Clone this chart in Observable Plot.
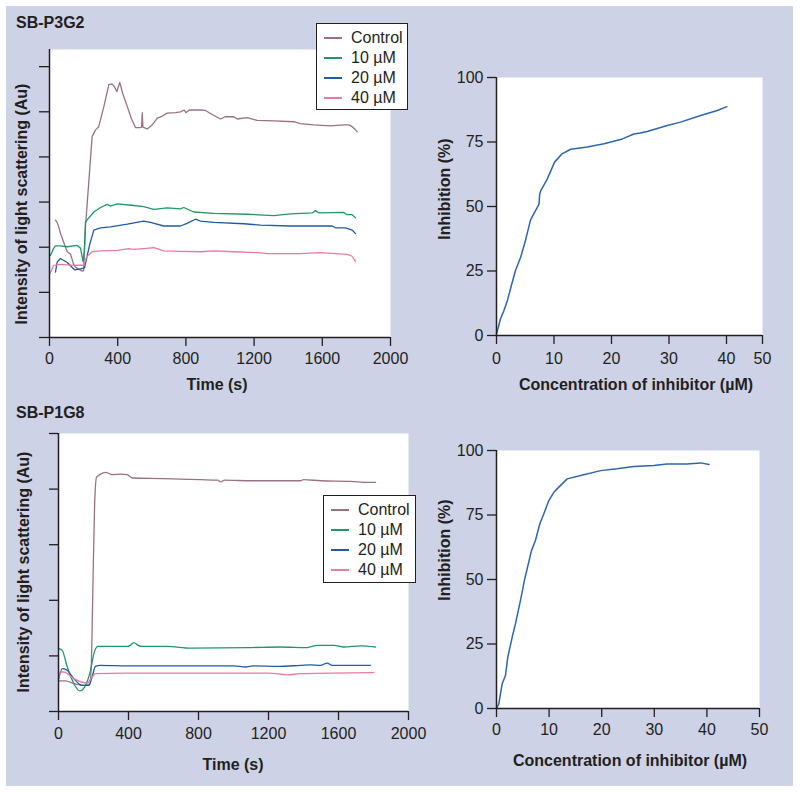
<!DOCTYPE html>
<html>
<head>
<meta charset="utf-8">
<script src="https://cdn.jsdelivr.net/npm/d3@7"></script>
<script src="https://cdn.jsdelivr.net/npm/@observablehq/plot@0.6"></script>
<style>
  body { margin: 0; background: #fff; }
  #root { position: relative; width: 800px; height: 792px; overflow: hidden;
          font-family: "Liberation Sans", Arial, Helvetica, sans-serif; color: #231f20; }
  .bg { position: absolute; left: 6px; top: 6px; width: 787px; height: 780px; background: #cdd2e6; }
  .lbl { position: absolute; white-space: nowrap; font-weight: bold; font-size: 16px; line-height: 1;
         transform: translate(-50%, -50%); }
  .rot { transform: translate(-50%, -50%) rotate(-90deg); }
  .ptitle { position: absolute; white-space: nowrap; font-weight: bold; font-size: 16px; line-height: 1;
            transform: translate(0, -50%); }
  .legend { position: absolute; background: #fff; border: 1px solid #231f20; box-sizing: border-box; }
  .legend .row { position: absolute; left: 0; height: 20px; width: 100%; }
  .legend .sw { position: absolute; top: 9px; height: 2px; }
  .legend .tx { position: absolute; top: 0; font-size: 16px; line-height: 20px; white-space: nowrap; }
</style>
</head>
<body>
<div id="root"><div class="bg"></div></div>
<script>
// ---------------- DATA ----------------
const seriesNames = ["Control", "10 µM", "20 µM", "40 µM"];
const seriesColors = ["#9a7184", "#1f9868", "#1f5ba8", "#e97aa0"];
const inhibColor = "#2e66ad";

const timeTicks = [0, 400, 800, 1200, 1600, 2000];
const p3g2YTicks = [0, 1, 2, 3, 4, 5, 6];
const p1g8YTicks = [0, 1, 2, 3, 4, 5];
const pctTicks = [0, 25, 50, 75, 100];
const concTicks = [0, 10, 20, 30, 40, 50];

// SB-P3G2 light scattering: [time (s), intensity (Au)]
const p3g2Control = [[35,2.6],[45,2.55],[55,2.44],[64,2.31],[104,1.9],[123,1.85],[143,1.6],[152,1.56],[192,1.47],[200,1.48],[211,2.45],[250,4.45],[270,4.6],[289,4.67],[319,5.12],[348,5.6],[365,5.62],[377,5.58],[395,5.45],[412,5.65],[430,5.4],[456,5.12],[480,4.85],[504,4.65],[533,4.65],[540,4.66],[544,4.98],[548,4.66],[573,4.62],[600,4.7],[632,4.86],[660,4.9],[690,4.97],[740,4.98],[768,5.0],[790,5.04],[800,4.98],[820,5.04],[886,5.04],[915,5.03],[954,4.94],[1003,4.84],[1030,4.89],[1081,4.89],[1101,4.84],[1159,4.87],[1218,4.81],[1316,4.8],[1433,4.78],[1470,4.74],[1550,4.71],[1648,4.69],[1726,4.71],[1756,4.71],[1775,4.67],[1795,4.6],[1805,4.56]];
const p3g2C10 = [[6,1.82],[25,1.98],[35,2.03],[64,2.03],[104,2.01],[162,2.04],[182,1.98],[197,1.68],[204,1.9],[211,2.56],[260,2.78],[300,2.88],[338,2.95],[358,2.91],[397,2.96],[480,2.93],[553,2.9],[612,2.84],[690,2.87],[768,2.85],[788,2.88],[846,2.78],[964,2.75],[1159,2.73],[1316,2.7],[1413,2.74],[1541,2.76],[1560,2.81],[1580,2.76],[1726,2.77],[1745,2.72],[1775,2.72],[1795,2.65]];
const p3g2C20 = [[35,1.45],[45,1.67],[64,1.75],[104,1.66],[147,1.5],[182,1.52],[205,1.54],[237,2.08],[260,2.38],[299,2.43],[358,2.45],[456,2.51],[553,2.58],[592,2.55],[670,2.47],[768,2.47],[807,2.53],[856,2.62],[886,2.58],[964,2.55],[1140,2.52],[1238,2.49],[1413,2.47],[1658,2.47],[1677,2.43],[1736,2.43],[1775,2.38],[1795,2.3]];
const p3g2C40 = [[0,1.4],[25,1.6],[64,1.62],[143,1.6],[201,1.6],[217,1.78],[250,1.9],[299,1.92],[397,1.93],[465,1.97],[494,1.95],[553,1.97],[612,1.99],[670,1.92],[768,1.91],[886,1.9],[964,1.92],[1081,1.9],[1218,1.88],[1277,1.86],[1472,1.86],[1589,1.88],[1746,1.84],[1775,1.8],[1795,1.68]];

// SB-P1G8 light scattering: [time (s), intensity (Au)]
const p1g8Control = [[2,0.55],[40,0.55],[88,0.5],[145,0.47],[179,0.5],[187,0.8],[198,2.48],[206,3.67],[217,4.21],[240,4.27],[269,4.3],[307,4.26],[354,4.27],[392,4.26],[421,4.2],[600,4.19],[811,4.17],[910,4.16],[926,4.13],[950,4.16],[1100,4.15],[1383,4.15],[1400,4.17],[1500,4.15],[1669,4.14],[1764,4.12],[1811,4.12]];
const p1g8C10 = [[2,1.13],[21,1.1],[50,0.8],[88,0.5],[122,0.37],[154,0.47],[183,0.74],[202,1.04],[225,1.17],[278,1.17],[392,1.17],[410,1.19],[430,1.24],[455,1.19],[478,1.17],[621,1.17],[754,1.14],[1097,1.15],[1269,1.16],[1421,1.15],[1478,1.19],[1574,1.19],[1630,1.16],[1726,1.18],[1811,1.16]];
const p1g8C20 = [[2,0.59],[21,0.77],[46,0.75],[88,0.59],[135,0.47],[173,0.47],[192,0.62],[211,0.81],[240,0.83],[392,0.82],[1002,0.82],[1069,0.8],[1112,0.82],[1250,0.81],[1383,0.83],[1440,0.84],[1497,0.83],[1535,0.87],[1564,0.83],[1783,0.83]];
const p1g8C40 = [[2,0.6],[11,0.71],[30,0.71],[88,0.59],[164,0.51],[192,0.62],[211,0.68],[392,0.69],[1200,0.69],[1307,0.66],[1380,0.68],[1802,0.7]];

// Inhibition curves: concentration (µM) and inhibition (%)
const p3g2Conc = [0,0.7,1.3,1.9,2.6,3.3,4.2,5.0,5.9,6.2,7.1,7.4,7.5,7.7,8.8,10.1,11.4,12.9,15.8,18.7,20.4,21.9,23.9,25,26.2,29.7,32,35.5,38.4,40.1];
const p3g2Inh  = [0.6,6.5,9.7,13.6,19.5,25.2,30.3,36.5,44.6,46,49.7,51,54.5,56.2,60.5,67.2,70.4,72.2,73.1,74.3,75.3,76.2,78.1,78.5,79.1,81.4,82.7,85.3,87.2,88.7];
const p1g8Conc = [0,0.44,1.08,1.7,2.15,2.98,3.6,4.56,5.3,6.65,7.4,8.24,9.0,9.95,10.9,11.85,13.45,16,19.8,22.9,26.1,29.9,32.4,36.2,38.8,40.4];
const p1g8Inh  = [0,1.8,9.6,12.8,19.9,27.6,32.8,41.9,49.6,61.2,65.1,71.6,75.5,80.6,83.8,85.8,89,90.3,92.2,92.9,93.8,94.2,94.8,94.8,95.2,94.6];

// ---------------- BUILD ----------------
const fontStack = '"Liberation Sans", Arial, Helvetica, sans-serif';
const ink = "#231f20";
const root = document.getElementById("root");

function baseStyle() {
  return { position: "absolute", left: "0px", top: "0px", background: "transparent",
           fontFamily: fontStack, fontSize: "16px", color: ink, overflow: "visible" };
}
function rowsOf(seriesArrays) {
  return seriesArrays.flatMap((arr, i) => arr.map(([t, v]) => ({ series: seriesNames[i], t, v })));
}
function pairs(xs, ys) { return xs.map((c, i) => ({ c, p: ys[i] })); }
const fmt = d => String(d);

function timePanel(rows, m, yDomain, yTicks, yTickSize, xPad, curve) {
  return Plot.plot({
    width: 800, height: 792,
    marginLeft: m[0], marginRight: m[1], marginTop: m[2], marginBottom: m[3],
    style: baseStyle(),
    x: { domain: [0, 2000] },
    y: { domain: yDomain },
    color: { domain: seriesNames, range: seriesColors },
    marks: [
      Plot.frame({ fill: "white", stroke: "none" }),
      Plot.line(rows, { x: "t", y: "v", z: "series", stroke: "series", strokeWidth: 1.3, curve }),
      Plot.axisX({ ticks: timeTicks, tickSize: 9, tickPadding: xPad, tickFormat: fmt, label: null, strokeWidth: 1.3 }),
      Plot.axisY({ ticks: yTicks, tickSize: yTickSize, tickFormat: () => "", label: null, strokeWidth: 1.3 }),
      Plot.ruleX([0], { stroke: ink, strokeWidth: 1.5 }),
      Plot.ruleY([0], { stroke: ink, strokeWidth: 1.5 })
    ]
  });
}

function inhibPanel(data, m, xScale, xPad) {
  return Plot.plot({
    width: 800, height: 792,
    marginLeft: m[0], marginRight: m[1], marginTop: m[2], marginBottom: m[3],
    style: baseStyle(),
    x: xScale,
    y: { domain: [0, 100] },
    marks: [
      Plot.frame({ fill: "white", stroke: "none" }),
      Plot.line(data, { x: "c", y: "p", stroke: inhibColor, strokeWidth: 1.5 }),
      Plot.axisX({ ticks: concTicks, tickSize: 9, tickPadding: xPad, tickFormat: fmt, label: null, strokeWidth: 1.3 }),
      Plot.axisY({ ticks: pctTicks, tickSize: 9, tickPadding: 4, tickFormat: fmt, label: null, strokeWidth: 1.3 }),
      Plot.ruleX([0], { stroke: ink, strokeWidth: 1.5 }),
      Plot.ruleY([0], { stroke: ink, strokeWidth: 1.5 })
    ]
  });
}

root.appendChild(timePanel(rowsOf([p3g2Control, p3g2C10, p3g2C20, p3g2C40]),
  [49, 410, 49, 455], [0, 6.38], p3g2YTicks, 10, 6, "linear"));
root.appendChild(inhibPanel(pairs(p3g2Conc, p3g2Inh), [496, 38, 77, 457],
  { type: "linear", domain: [0, 40, 50], range: [496, 726, 762] }, 8.5));
root.appendChild(timePanel(rowsOf([p1g8Control, p1g8C10, p1g8C20, p1g8C40]),
  [58, 392, 433, 81], [0, 5], p1g8YTicks, 9, 7.5, "monotone-x"));
root.appendChild(inhibPanel(pairs(p1g8Conc, p1g8Inh), [496, 41, 450, 84],
  { domain: [0, 50] }, 6.5));

// ---------------- TEXT ----------------
function label(text, x, y, cls) {
  const d = document.createElement("div");
  d.className = cls;
  d.style.left = x + "px"; d.style.top = y + "px";
  d.textContent = text;
  root.appendChild(d);
}
label("SB-P3G2", 16, 23, "ptitle");
label("SB-P1G8", 16, 413, "ptitle");
label("Time (s)", 217, 385, "lbl");
label("Time (s)", 233, 765, "lbl");
label("Concentration of inhibitor (µM)", 636, 385, "lbl");
label("Concentration of inhibitor (µM)", 630, 761, "lbl");
label("Intensity of light scattering (Au)", 22, 204, "lbl rot");
label("Intensity of light scattering (Au)", 24, 572, "lbl rot");
label("Inhibition (%)", 445, 189, "lbl rot");
label("Inhibition (%)", 445, 550, "lbl rot");

function legend(x, y, w, h) {
  const box = document.createElement("div");
  box.className = "legend";
  Object.assign(box.style, { left: x + "px", top: y + "px", width: w + "px", height: h + "px" });
  seriesNames.forEach((name, i) => {
    const row = document.createElement("div");
    row.className = "row";
    row.style.top = (4 + i * 20) + "px";
    const sw = document.createElement("div");
    sw.className = "sw";
    Object.assign(sw.style, { left: "7px", width: "18px", background: seriesColors[i] });
    const tx = document.createElement("div");
    tx.className = "tx";
    tx.style.left = "34px";
    tx.textContent = name;
    row.appendChild(sw); row.appendChild(tx);
    box.appendChild(row);
  });
  root.appendChild(box);
}
legend(316, 23, 92, 87);
legend(323, 495, 93, 88);
</script>
</body>
</html>
